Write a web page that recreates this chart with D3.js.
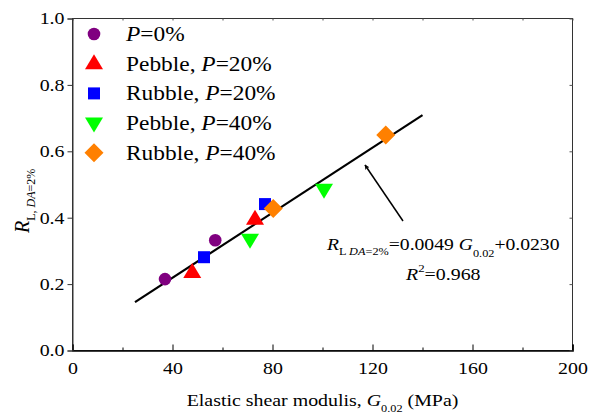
<!DOCTYPE html>
<html><head><meta charset="utf-8">
<script src="https://cdn.jsdelivr.net/npm/d3@7/dist/d3.min.js"></script>
<style>body{margin:0;background:#fff;} svg{display:block;} svg text{font-family:"Liberation Serif","Times New Roman",serif;}</style>
</head><body>
<svg id="c" width="595" height="416"></svg>
<script>
// Data
const seriesNames = ["P=0%", "Pebble, P=20%", "Rubble, P=20%", "Pebble, P=40%", "Rubble, P=40%"];
const seriesColors = ["#800080", "#ff0000", "#0000ff", "#00ff00", "#ff8000"];
const seriesShapes = ["circle", "triUp", "square", "triDown", "diamond"];
const gP0 = [37.0, 57.1], rP0 = [0.215, 0.332];
const gPeb20 = [47.9, 73.0], rPeb20 = [0.235, 0.395];
const gRub20 = [52.6, 77.0], rRub20 = [0.281, 0.441];
const gPeb40 = [71.0, 100.6], rPeb40 = [0.335, 0.486];
const gRub40 = [80.3, 125.3], rRub40 = [0.428, 0.649];
const fitSlope = 0.0049, fitIntercept = 0.0230;
const fitRange = [25, 140];
const xTicks = [0, 40, 80, 120, 160, 200];
const xMinor = [20, 60, 100, 140, 180];
const yTicks = [0.0, 0.2, 0.4, 0.6, 0.8, 1.0];

const seriesG = [gP0, gPeb20, gRub20, gPeb40, gRub40];
const seriesR = [rP0, rPeb20, rRub20, rPeb40, rRub40];

const SX = 1.17; // horizontal stretch of the reference's lettering
const svg = d3.select("#c");
const L = 72.5, R = 572.5, T = 18.5, B = 350.5;
const x = d3.scaleLinear().domain([0, 200]).range([L, R]);
const y = d3.scaleLinear().domain([0, 1]).range([B, T]);

function shapePath(s) {
  switch (s) {
    case "circle": return d3.symbol(d3.symbolCircle, Math.PI * 6.3 * 6.3)();
    case "square": return "M-6,-6H6V6H-6Z";
    case "triUp": return "M0,-9.5L9,5.5L-9,5.5Z";
    case "triDown": return "M0,9.5L9,-5.5L-9,-5.5Z";
    case "diamond": return "M0,-9.5L9.5,0L0,9.5L-9.5,0Z";
  }
}
function stretchedText(px, py, size, anchor) {
  return svg.append("g").attr("transform", `translate(${px},${py}) scale(${SX},1)`)
    .append("text").attr("font-size", size).attr("text-anchor", anchor || "start").attr("fill", "#000");
}

// frame
svg.append("rect").attr("x", L).attr("y", T).attr("width", R - L).attr("height", B - T)
  .attr("fill", "none").attr("stroke", "#333").attr("stroke-width", 1);

// bottom axis
const gx = svg.append("g").attr("transform", `translate(0,${B})`)
  .call(d3.axisBottom(x).tickValues(xTicks).tickSize(-6).tickPadding(10).tickFormat(d3.format("d")));
gx.select(".domain").attr("stroke", "#000").attr("stroke-width", 1.6);
gx.selectAll(".tick line").attr("stroke", "#000");
gx.selectAll("text").attr("font-size", 17).attr("fill", "#000").attr("font-family", null)
  .attr("y", 11).attr("transform", `scale(${SX},1)`);
const gxm = svg.append("g").attr("transform", `translate(0,${B})`)
  .call(d3.axisBottom(x).tickValues(xMinor).tickSize(-3).tickFormat(""));
gxm.select(".domain").remove();

// top ticks
const gt = svg.append("g").attr("transform", `translate(0,${T})`)
  .call(d3.axisTop(x).tickValues(xTicks.concat(xMinor)).tickSize(-2).tickFormat(""));
gt.select(".domain").remove();
gt.selectAll(".tick line").attr("stroke", "#555");

// left axis
const gy = svg.append("g").attr("transform", `translate(${L},0)`)
  .call(d3.axisLeft(y).tickValues(yTicks).tickSize(5).tickFormat(d3.format(".1f")));
gy.select(".domain").attr("stroke", "#333");
gy.selectAll(".tick line").attr("stroke", "#333");
gy.selectAll("text").attr("font-size", 17).attr("fill", "#000")
  .attr("x", -8 / SX).attr("transform", `scale(${SX},1)`);

// right ticks
const gr = svg.append("g").attr("transform", `translate(${R},0)`)
  .call(d3.axisRight(y).tickValues(yTicks).tickSize(-3).tickFormat(""));
gr.select(".domain").remove();
gr.selectAll(".tick line").attr("stroke", "#555");

// fit line
svg.append("line")
  .attr("x1", x(fitRange[0])).attr("y1", y(fitSlope * fitRange[0] + fitIntercept))
  .attr("x2", x(fitRange[1])).attr("y2", y(fitSlope * fitRange[1] + fitIntercept))
  .attr("stroke", "#000").attr("stroke-width", 2.2);

// points
seriesG.forEach((gs, i) => {
  gs.forEach((g, j) => {
    svg.append("path").attr("d", shapePath(seriesShapes[i]))
      .attr("transform", `translate(${x(g)},${y(seriesR[i][j])})`)
      .attr("fill", seriesColors[i]);
  });
});

// legend
const legY0 = 34, legDy = 29.7;
seriesNames.forEach((name, i) => {
  const yy = legY0 + i * legDy;
  svg.append("path").attr("d", shapePath(seriesShapes[i]))
    .attr("transform", `translate(94,${yy})`).attr("fill", seriesColors[i]);
  const t = stretchedText(126, yy + 7, 20);
  const parts = name.split("P=");
  if (parts[0]) t.append("tspan").text(parts[0]);
  t.append("tspan").attr("font-style", "italic").text("P");
  t.append("tspan").text("=" + parts[1]);
});

// arrow
svg.append("defs").append("marker").attr("id", "ah").attr("viewBox", "0 0 10 10")
  .attr("refX", 9).attr("refY", 5).attr("markerWidth", 5).attr("markerHeight", 5)
  .attr("markerUnits", "userSpaceOnUse").attr("orient", "auto")
  .append("path").attr("d", "M0,0L10,5L0,10L2.5,5Z").attr("fill", "#000");
svg.append("line").attr("x1", 403).attr("y1", 221).attr("x2", 365).attr("y2", 165)
  .attr("stroke", "#000").attr("stroke-width", 1.5).attr("marker-end", "url(#ah)");

// equation
const eq = stretchedText(327, 250, 16.8);
eq.append("tspan").attr("font-style", "italic").text("R");
eq.append("tspan").attr("font-size", 10.5).attr("dy", 5).text("L ");
eq.append("tspan").attr("font-size", 10.5).attr("font-style", "italic").text("DA");
eq.append("tspan").attr("font-size", 10.5).text("=2%");
eq.append("tspan").attr("dy", -5).text("=0.0049 ");
eq.append("tspan").attr("font-style", "italic").text("G");
eq.append("tspan").attr("font-size", 10.5).attr("dy", 7).text("0.02");
eq.append("tspan").attr("dy", -7).text("+0.0230");

const r2 = stretchedText(406, 280, 17);
r2.append("tspan").attr("font-style", "italic").text("R");
r2.append("tspan").attr("font-size", 11).attr("dy", -8).text("2");
r2.append("tspan").attr("dy", 8).text("=0.968");

// x title
const xt = stretchedText(322.5, 406, 17, "middle");
xt.append("tspan").text("Elastic shear modulis, ");
xt.append("tspan").attr("font-style", "italic").text("G");
xt.append("tspan").attr("font-size", 10.5).attr("dy", 6).text("0.02");
xt.append("tspan").attr("dy", -6).text(" (MPa)");

// y title
const yt = svg.append("text").attr("transform", "translate(29,233) rotate(-90)").attr("font-size", 20).attr("fill", "#000");
yt.append("tspan").attr("font-style", "italic").text("R");
yt.append("tspan").attr("font-size", 12).attr("dy", 6).text("L, ");
yt.append("tspan").attr("font-size", 12).attr("font-style", "italic").text("DA");
yt.append("tspan").attr("font-size", 12).text("=2%");
</script>
</body></html>
